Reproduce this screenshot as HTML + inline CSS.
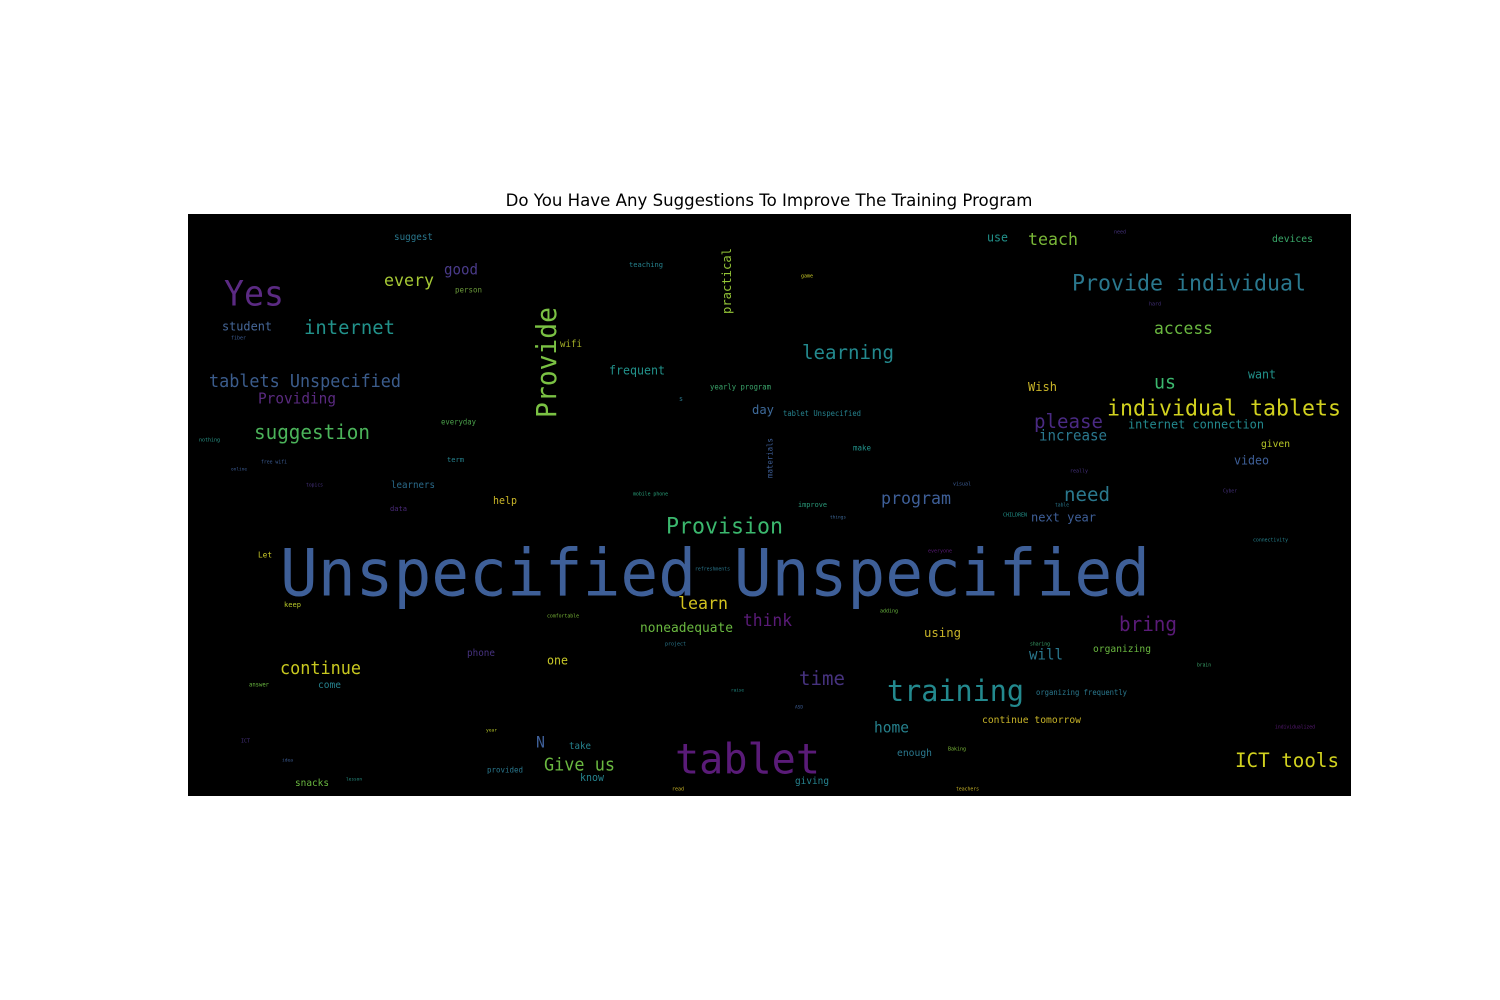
<!DOCTYPE html>
<html>
<head>
<meta charset="utf-8">
<style>
html,body{margin:0;padding:0;background:#fff;}
body{width:1500px;height:1000px;position:relative;overflow:hidden;}
#title{position:absolute;left:0;width:1538px;top:191px;text-align:center;font-family:"DejaVu Sans","Liberation Sans",sans-serif;font-size:16.6px;color:#000;}
#cloud{position:absolute;left:188px;top:214px;width:1163px;height:582px;background:#000;}
</style>
</head>
<body>
<div id="title">Do You Have Any Suggestions To Improve The Training Program</div>
<svg id="cloud" width="1163" height="582" xmlns="http://www.w3.org/2000/svg"></svg>
<script>
// words, positions (page coords: left x, right x, center y), colours, rotation
const words = ["Unspecified Unspecified","tablet","training","Provision","Yes","Provide individual","individual tablets","Provide","practical","materials","internet","student","tablets Unspecified","Providing","suggestion","every","good","suggest","person","fiber","wifi","teaching","frequent","yearly program","s","day","everyday","nothing","free wifi","online","term","topics","learners","help","data","mobile phone","tablet Unspecified","use","teach","need","devices","game","hard","access","learning","Wish","us","want","please","internet connection","increase","make","given","video","really","visual","Cyber","program","need","improve","table","Let","keep","comfortable","refreshments","learn","noneadequate","project","phone","one","continue","answer","come","raise","year","ICT","N","take","idea","provided","Give us","know","snacks","lesson","read","things","CHILDREN","next year","connectivity","everyone","adding","bring","think","using","sharing","organizing","will","brain","time","organizing frequently","ASD","home","continue tomorrow","individualized","enough","Baking","ICT tools","giving","teachers"];
const x0s = [280,675,887,666,224,1072,1107,307,248,438,304,222,209,258,254,384,444,394,455,231,560,629,609,710,679,752,441,199,261,231,447,306,391,493,390,633,783,987,1028,1114,1272,801,1149,1154,802,1028,1154,1248,1034,1128,1039,853,1261,1234,1070,953,1223,881,1064,798,1055,258,284,547,695,678,640,665,467,547,280,249,318,731,486,241,536,569,282,487,544,580,295,346,672,830,1003,1031,1253,928,880,1119,743,924,1030,1093,1029,1197,799,1036,795,874,982,1275,897,948,1235,795,956];
const x1s = [1150,820,1024,783,284,1306,1341,418,314,478,395,272,401,336,370,434,478,433,482,246,582,663,665,771,683,774,476,220,287,247,464,323,435,517,407,668,861,1008,1078,1126,1313,813,1161,1213,894,1057,1176,1276,1103,1264,1107,871,1290,1269,1088,971,1237,951,1110,827,1069,272,301,579,730,728,733,686,495,568,361,269,341,744,497,250,545,591,293,523,615,604,329,362,684,846,1027,1096,1288,952,898,1177,792,961,1050,1151,1063,1211,845,1127,803,909,1081,1315,932,966,1339,829,979];
const cys = [575,760,691,526,294,283,408,548,727,770,327,326,381,398,432,280,269,236,289,337,343,264,370,386,398,409,421,439,461,468,459,484,484,500,508,493,413,237,239,231,238,275,303,328,352,386,382,374,421,424,435,447,443,460,470,483,490,498,494,504,504,554,604,615,568,603,627,643,652,660,668,684,684,689,729,740,742,745,759,769,764,777,782,778,788,516,514,517,539,550,610,624,620,632,643,648,654,664,678,692,706,727,719,726,752,748,760,780,788];
const colors = ["#3e5f98","#5a1b78","#23898e","#3bb86e","#5b2a83","#2a788e","#d2d21f","#7ac143","#93c437","#3e5f98","#22928b","#46689a","#3b5c8c","#5a2a80","#4bb35a","#a6c935","#4a3b8a","#2a788e","#6b9a3a","#3e5f98","#a8b428","#26828e","#22928b","#3aa36a","#2a788e","#3e6a9a","#4aa04a","#2a988a","#3e5f98","#3e5f98","#26828e","#46327e","#2a6a8a","#c8b428","#4a2a7a","#2aa07a","#26828e","#22928b","#7ab838","#46327e","#3aaa6a","#c8c828","#46327e","#6ab840","#23898e","#c8b428","#3bb86e","#22928b","#4a2a83","#23898e","#2a788e","#22928b","#b8c828","#3e5f98","#46327e","#3e5f98","#46327e","#3e5f98","#2a788e","#2a9a7a","#2a788e","#c8c828","#b8c828","#7ab838","#2a788e","#d2c21f","#6ab840","#2a788e","#46327e","#c8c828","#c8c81f","#6ab840","#26828e","#22928b","#b8c828","#46327e","#3e5f98","#26828e","#3e5f98","#2a788e","#6ab840","#26828e","#6ab840","#2a988a","#c8b428","#3e6a9a","#22928b","#3e5f98","#26828e","#5a1b78","#6ab840","#5a1b78","#5a1b78","#c8b428","#3aa36a","#6ab840","#2a788e","#3aa36a","#46327e","#2a788e","#3e5f98","#26828e","#c8b428","#5a1b78","#2a788e","#7ab838","#d2d21f","#26828e","#c8b428"];
const vertical = ["Provide","practical","materials"];

const svg = document.getElementById('cloud');
const NS = 'http://www.w3.org/2000/svg';
const OX = 188, OY = 213;
for (let i = 0; i < words.length; i++) {
  const w = words[i];
  const len = x1s[i] - x0s[i];
  const fs = len / (w.length * 0.602) * 1.04;
  const t = document.createElementNS(NS, 'text');
  
  
  t.setAttribute('font-family', '"DejaVu Sans Mono","Liberation Mono",monospace');
  t.setAttribute('font-size', fs.toFixed(2));
  t.setAttribute('fill', colors[i]);
  t.setAttribute('text-anchor', 'middle');
  t.setAttribute('textLength', len.toFixed(1));
  t.setAttribute('lengthAdjust', 'spacingAndGlyphs');
  t.textContent = w;
  if (vertical.includes(w)) {
    const cy = (x0s[i] + x1s[i]) / 2 - 214;
    const cx = cys[i] - OX;
    t.setAttribute('x', cx);
    t.setAttribute('y', (cy + fs * 0.3).toFixed(1));
    t.setAttribute('transform', 'rotate(-90 ' + cx + ' ' + cy + ')');
  } else {
    const cx = (x0s[i] + x1s[i]) / 2 - OX;
    t.setAttribute('x', cx.toFixed(1));
    t.setAttribute('y', (cys[i] - OY + fs * 0.3).toFixed(1));
  }
  svg.appendChild(t);
}
</script>
</body>
</html>
